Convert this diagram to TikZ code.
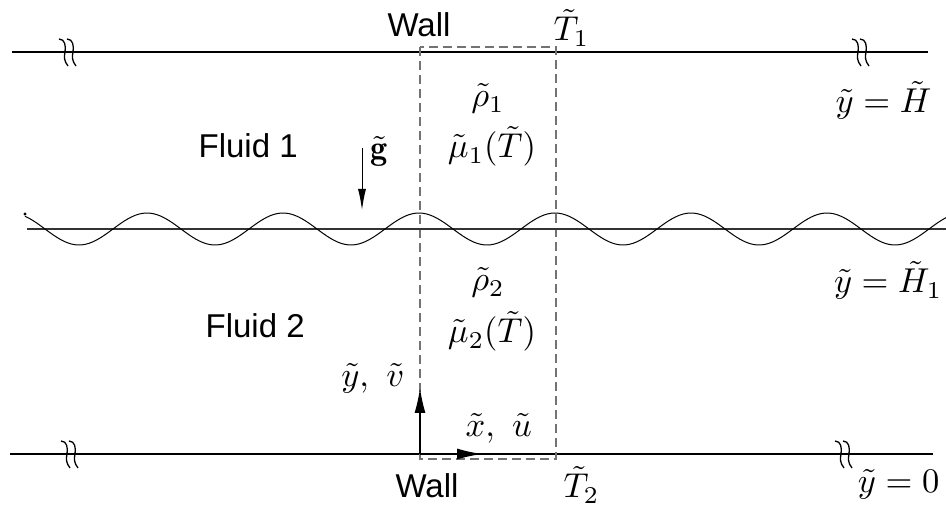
\documentclass[tikz,border=0pt]{standalone}
\usepackage{fontspec}
\newfontfamily\hv{Liberation Sans}
\usetikzlibrary{arrows.meta}
\begin{document}
\begin{tikzpicture}[x=1pt,y=-1pt,
  wall/.style={line width=2.6pt},
  brk/.style={line width=1.3pt},
  dashbox/.style={draw=black!55,line width=1.3pt,dash pattern=on 9pt off 5pt},
  txt/.style={inner sep=0pt,font=\hv,scale=3.3},
  mth/.style={inner sep=0pt,scale=3.45},
  bigarrow/.style={line width=1.4pt,-{Latex[length=25pt,width=11pt]}},
  garrow/.style={line width=1pt,-{Latex[length=21pt,width=8pt]}}]
\useasboundingbox (0,0) rectangle (946,510);
% walls
\coordinate (tw1) at (12,52); \coordinate (tw2) at (928,52);
\coordinate (bw1) at (10,454); \coordinate (bw2) at (933,454);
\draw[wall] (tw1) -- (tw2);
\draw[wall] (bw1) -- (bw2);
% break marks
\foreach \cx/\cy in {67/52,860/52,69/454,843/454}{
  \foreach \d in {0,8}{
    \draw[brk] (\cx+\d-8,\cy-13) .. controls (\cx+\d-2,\cy-13) and (\cx+\d-1,\cy-6) .. (\cx+\d-2,\cy)
      .. controls (\cx+\d-3,\cy+5) and (\cx+\d-3,\cy+9) .. (\cx+\d+1,\cy+14);
  }
}
% dashed control volume
\coordinate (d1) at (420,47); \coordinate (d2) at (556,459);
\draw[dashbox] (d1) rectangle (d2);
% interface
\coordinate (i1) at (27,229); \coordinate (i2) at (946,229);
\draw[line width=1.2pt, black!80] (i1) -- (i2);
\draw[line width=1pt] plot[domain=25:946,samples=260] (\x,{229-16*cos(2.6471*(\x-147))});
\fill (25,214) circle (1.7pt);
% gravity
\coordinate (g1) at (362,148); \coordinate (g2) at (362,210);
\draw[garrow] (g1) -- (g2);
% axes
\coordinate (o) at (420,454); \coordinate (ya) at (420,388); \coordinate (xa) at (482,454);
\draw[bigarrow] (o) -- (ya);
\draw[bigarrow] (o) -- (xa);
% labels
\node[txt,anchor=base] (wallT) at (419,37) {Wall};
\node[mth,anchor=base west] (T1) at (553,41) {$\tilde{T}_1$};
\node[mth,anchor=base] (rho1) at (488,107) {$\tilde{\rho}_1$};
\node[mth,anchor=base] (mu1) at (492,158) {$\tilde{\mu}_1(\tilde{T})$};
\node[txt,anchor=base west] (fl1) at (198,158) {Fluid 1};
\node[mth,anchor=base west] (g) at (370,160) {$\tilde{\mathbf{g}}$};
\node[mth,anchor=base east] (yH) at (932,113) {$\tilde{y}=\tilde{H}$};
\node[mth,anchor=base east] (yH1) at (943,293) {$\tilde{y}=\tilde{H}_1$};
\node[mth,anchor=base] (rho2) at (488,291) {$\tilde{\rho}_2$};
\node[mth,anchor=base] (mu2) at (492,343) {$\tilde{\mu}_2(\tilde{T})$};
\node[txt,anchor=base west] (fl2) at (205,338) {Fluid 2};
\node[mth,anchor=base east] (yv) at (405,387) {$\tilde{y},\ \tilde{v}$};
\node[mth,anchor=base west] (xu) at (465,437) {$\tilde{x},\ \tilde{u}$};
\node[txt,anchor=base] (wallB) at (427,498) {Wall};
\node[mth,anchor=base west] (T2) at (563,498) {$\tilde{T}_2$};
\node[mth,anchor=base east] (y0) at (940,493) {$\tilde{y}=0$};
\end{tikzpicture}
\end{document}
